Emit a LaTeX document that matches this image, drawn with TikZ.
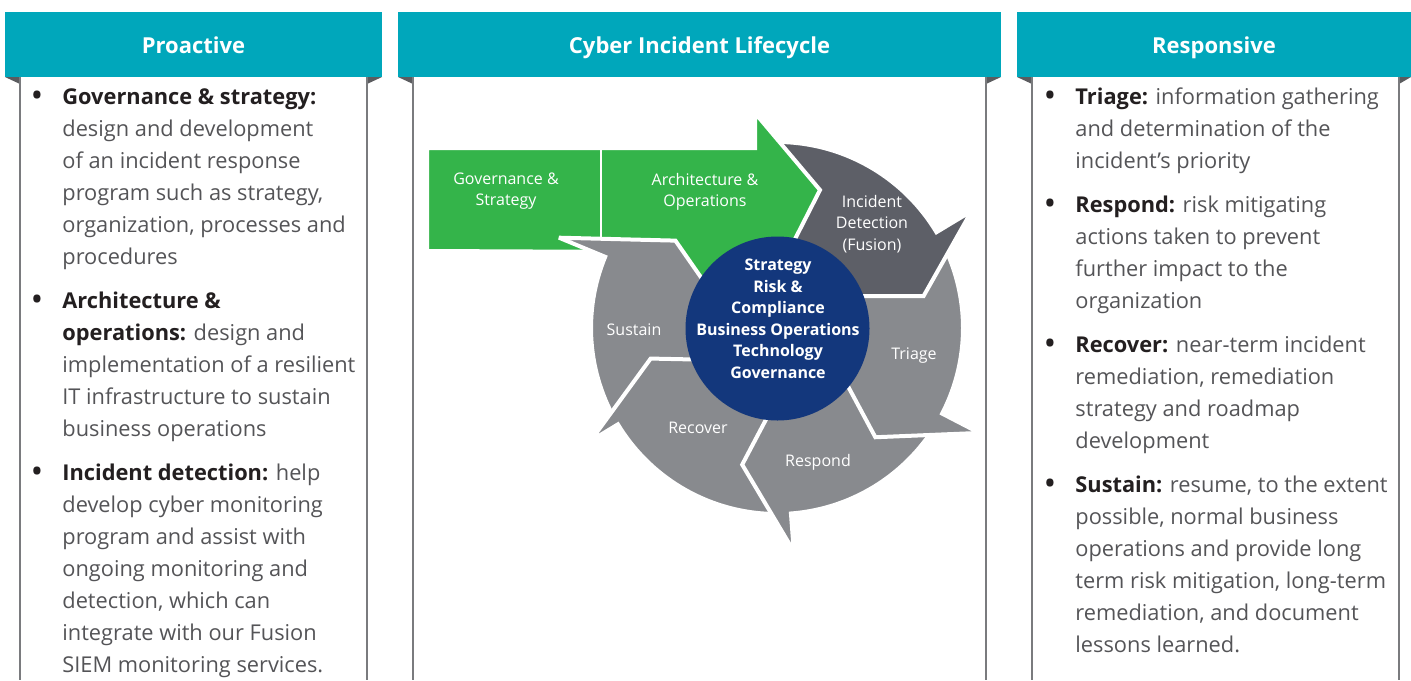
\documentclass[tikz,border=0pt]{standalone}
\usepackage{fontspec}
\setmainfont{Open Sans}
\definecolor{hdteal}{HTML}{00A7BB}
\definecolor{grn}{HTML}{34B44A}
\definecolor{dkg}{HTML}{5D5F67}
\definecolor{ltg}{HTML}{888A8E}
\definecolor{cblue}{HTML}{13377C}
\definecolor{boldc}{HTML}{231F20}
\definecolor{bodyc}{HTML}{545457}
\definecolor{linec}{HTML}{7A7B7E}
\definecolor{foldc}{HTML}{5B5C5F}
\newcommand\hb[1]{{\bfseries\color{boldc}#1}}
\def\ri{85}
\def\ro{186}
\def\rbi{62}
% #1 colour, #2 start angle, #3 barb angle, #4 barb radius, #5 tip angle, #6 tip radius
\newcommand\ringarrow[6]{%
  \path[fill=#1, draw=white, line width=2pt, line join=miter, miter limit=4]
    (#2:\ri) -- (#2:\ro) arc[start angle=#2, end angle=#3, radius=\ro]
    -- (#3:#4) -- (#5:#6) -- (#3:\rbi) -- (#3:\ri)
    arc[start angle=#3, end angle=#2, radius=\ri] -- cycle;}
\tikzset{
  hdrtxt/.style={text=white, font=\fontsize{11}{13}\selectfont\bfseries, inner sep=0, anchor=base},
  coltext/.style={text=bodyc, font=\fontsize{10.9}{16}\selectfont, align=left, inner sep=0, anchor=base west},
  bul/.style={text=boldc, font=\fontsize{13}{16}\selectfont\bfseries, inner sep=0, anchor=base},
  cyc/.style={text=white, font=\fontsize{8}{10.75}\selectfont, align=center, inner sep=0},
  colline/.style={draw=linec, line width=1pt},
  fold/.style={fill=foldc}
}
\begin{document}
\begin{tikzpicture}[x=0.5pt,y=0.5pt]
\useasboundingbox (0,0) rectangle (1411,-680);
% headers
\fill[hdteal] (5,-12) rectangle (382,-77);
\fill[hdteal] (398,-12) rectangle (1001,-77);
\fill[hdteal] (1017,-12) rectangle (1411,-77);
\node[hdrtxt] (h1) at (193.5,-53) {Proactive};
\node[hdrtxt] (h2) at (699.5,-53) {Cyber Incident Lifecycle};
\node[hdrtxt] (h3) at (1214,-53) {Responsive};
% left column (node base = baseline of last line)
\node[bul] (b1) at (37,-104) {•};
\node[coltext] (p1) at (62,-264) {\hb{Governance \& strategy:}\\design and development\\of an incident response\\program such as strategy,\\organization, processes and\\procedures};
\node[bul] (b2) at (37,-308) {•};
\node[coltext] (p2) at (62,-436) {\hb{Architecture \&}\\\hb{operations:} design and\\implementation of a resilient\\IT infrastructure to sustain\\business operations};
\node[bul] (b3) at (37,-480) {•};
\node[coltext] (p3) at (62,-672) {\hb{Incident detection:} help\\develop cyber monitoring\\program and assist with\\ongoing monitoring and\\detection, which can\\integrate with our Fusion\\SIEM monitoring services.};
% right column
\node[bul] (r1b) at (1050,-104) {•};
\node[coltext] (r1) at (1075,-168) {\hb{Triage:} information gathering\\and determination of the\\incident’s priority};
\node[bul] (r2b) at (1050,-212) {•};
\node[coltext] (r2) at (1075,-308) {\hb{Respond:} risk mitigating\\actions taken to prevent\\further impact to the\\organization};
\node[bul] (r3b) at (1050,-352) {•};
\node[coltext] (r3) at (1075,-448) {\hb{Recover:} near-term incident\\remediation, remediation\\strategy and roadmap\\development};
\node[bul] (r4b) at (1050,-492) {•};
\node[coltext] (r4) at (1075,-652) {\hb{Sustain:} resume, to the extent\\possible, normal business\\operations and provide long\\term risk mitigation, long-term\\remediation, and document\\lessons learned.};
% cycle arrows
\begin{scope}[shift={(777,-328)}]
  \ringarrow{ltg}{-148.8}{-202.5}{236}{-220.7}{134}
  \ringarrow{ltg}{-85.7}{-148.8}{218}{-166.4}{130}
  \ringarrow{ltg}{-27.4}{-85.7}{224}{-104.3}{141}
  \ringarrow{ltg}{31}{-27.4}{228}{-48}{147}
  \ringarrow{dkg}{96}{31}{227}{12.3}{150}
\end{scope}
% green arrow
\path[fill=grn, draw=white, line width=2pt, line join=miter, miter limit=4]
  (427,-148) -- (755,-148) -- (755,-113) -- (820,-190) -- (768,-292)
  -- (700,-302) -- (640,-252) -- (427,-251) -- cycle;
\draw[white, line width=1.25pt] (601,-149) -- (601,-250);
% sustain head on top of green
\begin{scope}
  \clip (400,-100) rectangle (770,-300);
  \begin{scope}[shift={(777,-328)}]
    \ringarrow{ltg}{-148.8}{-202.5}{236}{-220.7}{134}
  \end{scope}
\end{scope}
% centre circle
\node[circle, fill=cblue, minimum size=92pt, inner sep=0] (core) at (777.5,-328.5) {};
\node[cyc, font=\fontsize{8}{10.75}\selectfont\bfseries] (coretxt) at (778,-319) {Strategy\\Risk \&\\Compliance\\Business Operations\\Technology\\Governance};
% cycle labels
\node[cyc] (lgov) at (506,-191) {Governance \&\\Strategy};
\node[cyc] (larch) at (705,-192) {Architecture \&\\Operations};
\node[cyc] (lid) at (872,-224) {Incident\\Detection\\(Fusion)};
\node[cyc] (ltri) at (914,-356) {Triage};
\node[cyc] (lres) at (818,-462) {Respond};
\node[cyc] (lrec) at (698,-428) {Recover};
\node[cyc] (lsus) at (634,-330) {Sustain};
% folds and column lines (on top)
\fill[fold] (5,-77) -- (20,-77) -- (20,-84) -- cycle;
\fill[fold] (367,-77) -- (382,-77) -- (367,-84) -- cycle;
\fill[fold] (398,-77) -- (413,-77) -- (413,-84) -- cycle;
\fill[fold] (986,-77) -- (1001,-77) -- (986,-84) -- cycle;
\fill[fold] (1017,-77) -- (1032,-77) -- (1032,-84) -- cycle;
\fill[fold] (1399,-77) -- (1411,-77) -- (1399,-84) -- cycle;
\draw[colline] (20,-77) -- (20,-680);
\draw[colline] (367,-77) -- (367,-680);
\draw[colline] (413,-77) -- (413,-680);
\draw[colline] (986,-77) -- (986,-680);
\draw[colline] (1032,-77) -- (1032,-680);
\draw[colline] (1399,-77) -- (1399,-680);
\end{tikzpicture}
\end{document}
